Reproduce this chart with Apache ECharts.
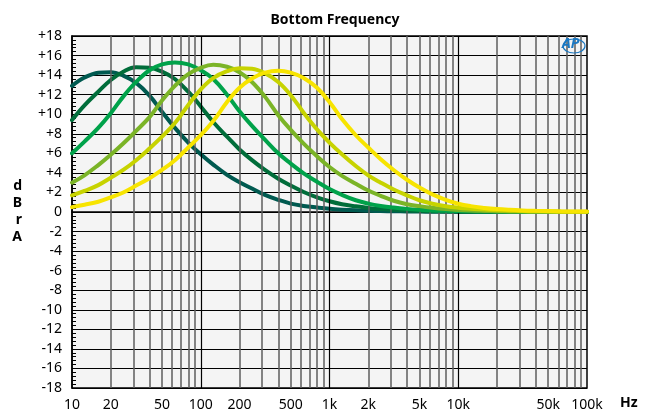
<!DOCTYPE html>
<html><head><meta charset="utf-8">
<script src="https://cdn.jsdelivr.net/npm/echarts@6/dist/echarts.min.js"></script>
<style>html,body{margin:0;padding:0;background:#fff}#c{width:648px;height:414px}</style>
</head><body><div id="c"></div>
<script>
// Frequencies (Hz, 1/3-octave) at which the curves were read
const freqs = [10,12.5,16,20,25,31.5,40,50,63,80,100,125,160,200,250,315,400,500,630,800,1000,1250,1600,2000,2500,3150,4000,5000,6300,8000,10000,12500,16000,20000,25000,31500,40000,50000,63000,80000,100000];
// dBrA values for each bottom-frequency setting
const curve1 = [12.9,13.75,14.25,14.3,13.95,13.2,11.9,10.25,8.6,7.1,5.9,4.85,3.8,3.05,2.4,1.75,1.25,0.86,0.62,0.46,0.33,0.24,0.17,0.13,0.1,0.08,0.06,0.04,0.03,0.02,0.01,0,0,0,0,0,0,0,0,0,0];
const curve2 = [9.4,10.9,12.3,13.5,14.35,14.8,14.75,14.35,13.6,12.3,10.8,9.2,7.7,6.4,5.3,4.3,3.4,2.7,2.05,1.5,1.1,0.8,0.58,0.42,0.3,0.22,0.15,0.11,0.08,0.05,0.03,0.02,0.01,0,0,0,0,0,0,0,0];
const curve3 = [6.0,7.2,8.6,10.1,11.8,13.3,14.5,15.1,15.3,15.1,14.5,13.6,12.0,10.3,8.8,7.4,6.0,4.95,3.95,3.1,2.35,1.75,1.2,0.86,0.62,0.45,0.32,0.23,0.16,0.12,0.09,0.07,0.05,0.03,0.02,0.01,0,0,0,0,0];
const curve4 = [3.0,3.75,4.8,5.85,7.0,8.3,9.7,11.4,12.9,14.1,14.75,15.05,14.85,14.3,13.3,11.8,9.9,8.4,7.0,5.7,4.6,3.7,2.9,2.2,1.65,1.15,0.8,0.6,0.43,0.3,0.21,0.15,0.11,0.08,0.06,0.04,0.03,0.02,0.01,0,0];
const curve5 = [1.7,2.15,2.75,3.5,4.3,5.3,6.5,7.7,9.1,10.95,12.55,13.7,14.4,14.7,14.65,14.2,13.3,11.95,10.15,8.45,7.1,5.9,4.7,3.75,3.0,2.3,1.7,1.2,0.84,0.59,0.44,0.34,0.25,0.18,0.14,0.1,0.08,0.06,0.04,0.03,0.02];
const curve6 = [0.5,0.75,1.05,1.5,2.0,2.7,3.45,4.3,5.3,6.6,7.85,9.3,11.25,12.7,13.65,14.25,14.45,14.25,13.7,12.7,11.25,9.5,7.85,6.6,5.4,4.3,3.3,2.5,1.8,1.25,0.85,0.6,0.42,0.3,0.22,0.16,0.12,0.09,0.06,0.05,0.04];
// Tick labels / grid positions
const xTickLabels = [10,20,50,100,200,500,1000,2000,5000,10000,50000,100000];
const decadeLines = [100,1000,10000];
const minorLines = [20,30,40,50,60,70,80,90,200,300,400,500,600,700,800,900,2000,3000,4000,5000,6000,7000,8000,9000,20000,30000,40000,50000,60000,70000,80000,90000];
const yMin = -18, yMax = 18, yStep = 2;

const colors = ['#005a50','#006d3a','#00a24a','#7bb427','#c7d300','#f7e400'];
const curves = [curve1,curve2,curve3,curve4,curve5,curve6];
const FONT = 'Noto Sans';

const chart = echarts.init(document.getElementById('c'), null, {renderer:'canvas'});
const lineSeries = curves.map((c,i)=>({
  type:'line', name:'c'+i, smooth:0.4, showSymbol:false, z:3+i,
  lineStyle:{color:colors[i], width:4, cap:'round'},
  data: freqs.map((f,j)=>[f,c[j]]), animation:false
}));
const gridSeries = {
  type:'line', data:[], z:1, silent:true, animation:false,
  markLine:{
    symbol:['none','none'], silent:true, animation:false, label:{show:false},
    data:[
      ...minorLines.map(v=>({xAxis:v, lineStyle:{color:'#5e5e5e', width:1.5, type:'solid'}})),
      ...decadeLines.map(v=>({xAxis:v, lineStyle:{color:'#000', width:1.2, type:'solid'}}))
    ]
  }
};
chart.setOption({
  animation:false,
  title:{text:'Bottom Frequency', left:330, textAlign:'center', top:8,
    textStyle:{fontFamily:FONT, fontWeight:'bold', fontSize:14, color:'#000'}},
  grid:{left:72, right:61, top:36, bottom:26, show:true, backgroundColor:'#f4f4f4', borderColor:'#000', borderWidth:1.5},
  xAxis:{type:'log', logBase:10, min:10, max:100000,
    axisLine:{show:true, lineStyle:{color:'#000', width:1.5}},
    axisTick:{show:false},
    splitLine:{show:false},
    axisLabel:{customValues:xTickLabels, margin:10, fontFamily:FONT, fontSize:14, color:'#000',
      formatter:v=> v>=1000 ? (v/1000)+'k' : String(v)}
  },
  yAxis:{type:'value', min:yMin, max:yMax, interval:yStep,
    name:'d\nB\nr\nA', nameLocation:'middle', nameRotate:0, nameGap:50,
    nameTextStyle:{fontFamily:FONT, fontWeight:'bold', fontSize:14, color:'#000', lineHeight:17},
    axisLine:{show:true, lineStyle:{color:'#000', width:1.5}},
    axisTick:{show:true, inside:true, length:5, lineStyle:{color:'#000'}},
    minorTick:{show:true, splitNumber:5, length:4, lineStyle:{color:'#000', width:1}},
    splitLine:{show:true, lineStyle:{color:'#000', width:1.2}},
    axisLabel:{margin:10, fontFamily:FONT, fontSize:14, color:'#000',
      formatter:v=> v>0 ? '+'+v : String(v)}
  },
  graphic:[
    {type:'text', left:620, top:396, z:100,
      style:{text:'Hz', fill:'#000', font:'bold 14px '+FONT}},
    {type:'ellipse', shape:{cx:574, cy:46, rx:11, ry:7}, z:100,
      style:{fill:'none', stroke:'#1b78c2', lineWidth:1.2}},
    {type:'text', left:562, top:37, z:101,
      style:{text:'AP', fill:'#1b78c2', font:'italic bold 14px '+FONT}}
  ],
  series:[gridSeries, ...lineSeries]
});
</script></body></html>
